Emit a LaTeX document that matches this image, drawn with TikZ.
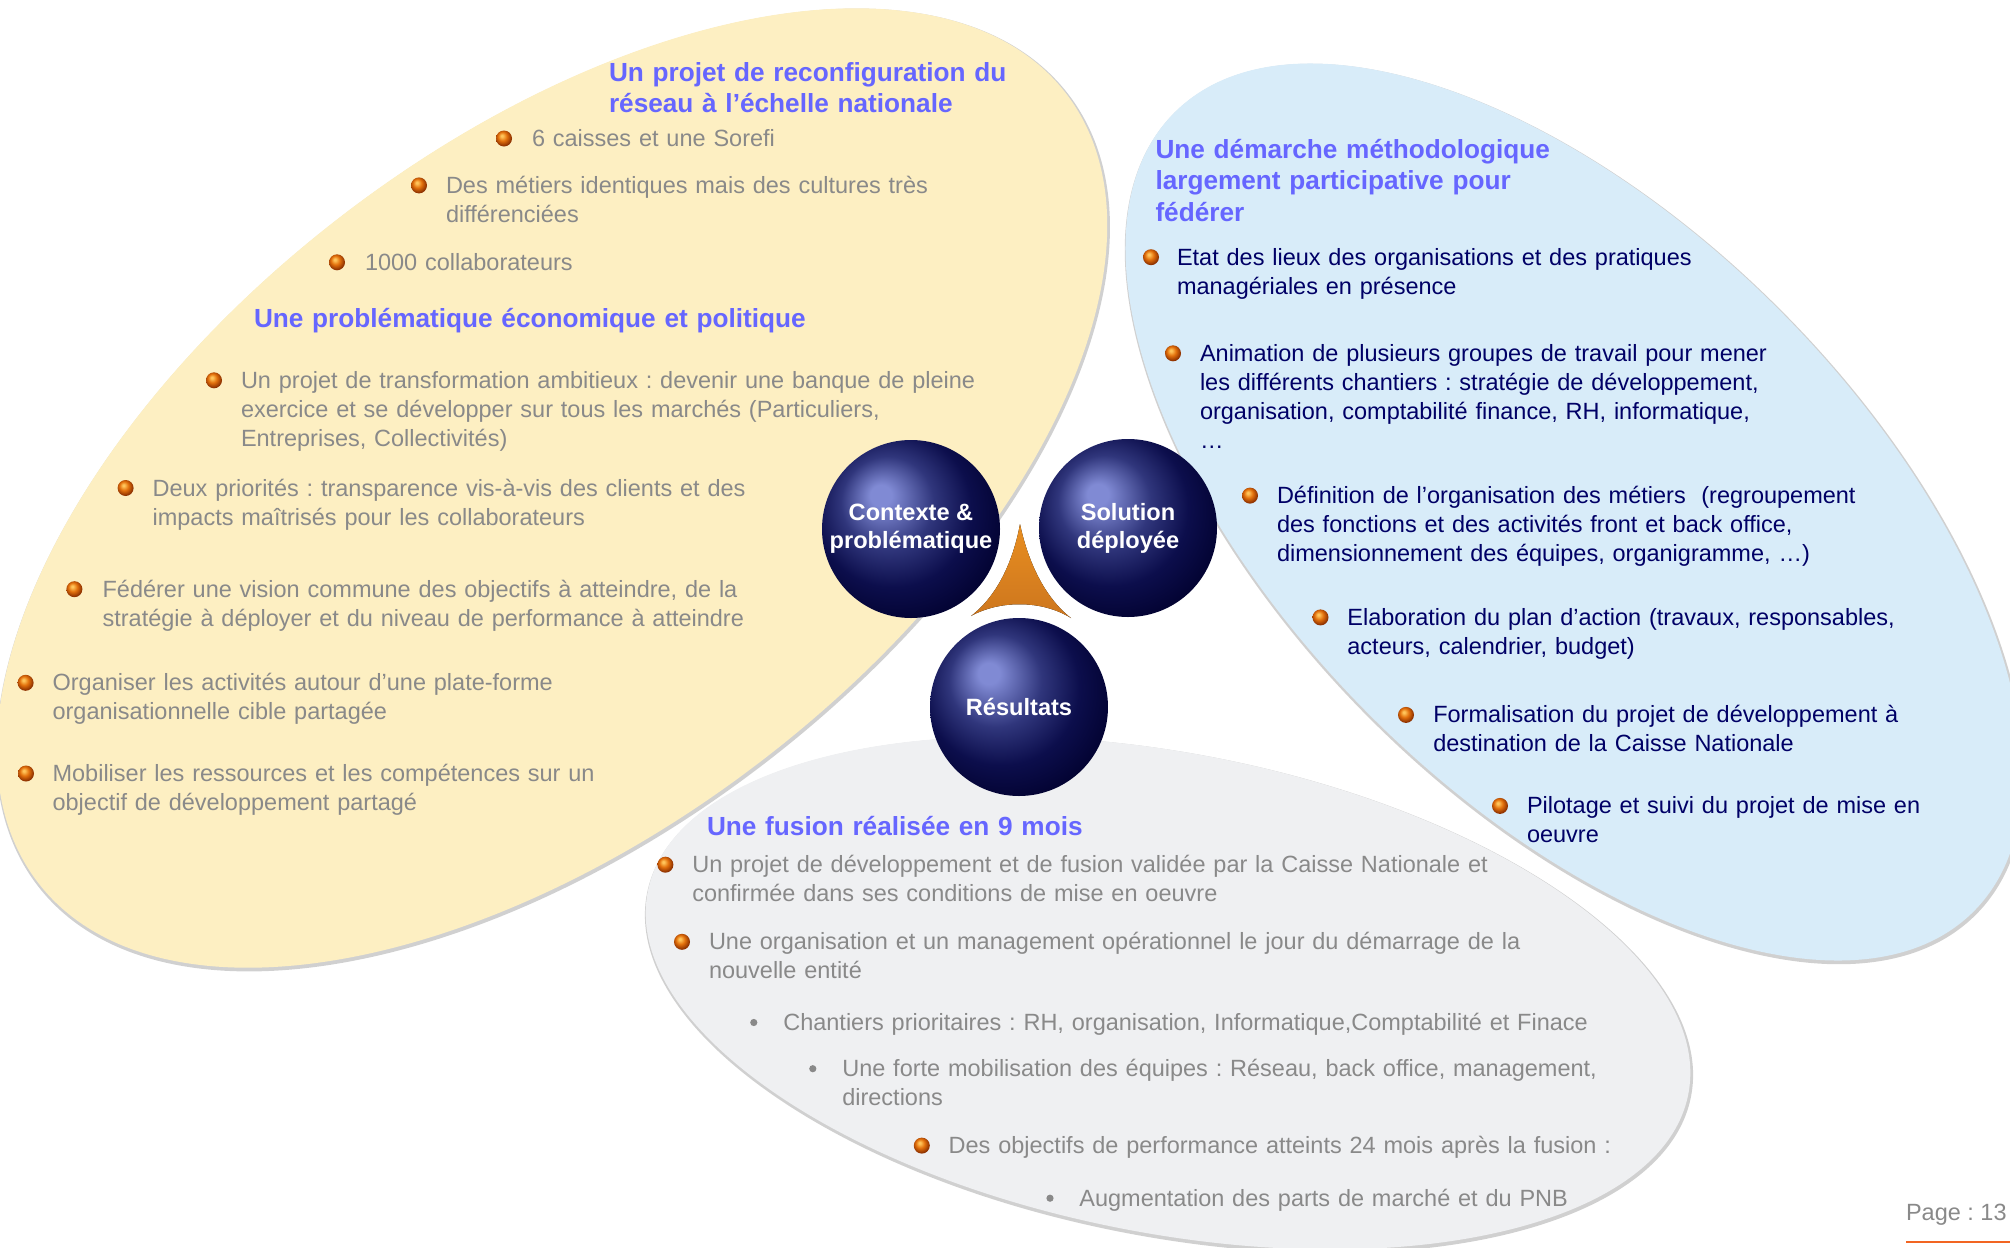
\documentclass[tikz,border=0pt]{standalone}
\usepackage{fontspec}
\setmainfont{Liberation Sans}
\usetikzlibrary{shadings}
\frenchspacing

\definecolor{ylwfill}{RGB}{253,239,194}
\definecolor{bluefill}{RGB}{216,236,249}
\definecolor{grayfill}{RGB}{239,240,242}
\definecolor{rimgray}{RGB}{170,170,170}
\definecolor{headblue}{RGB}{102,102,255}
\definecolor{txtgray}{RGB}{137,137,137}
\definecolor{txtnavy}{RGB}{0,0,102}
\definecolor{beadhl}{RGB}{255,196,90}
\definecolor{beadbody}{RGB}{226,112,12}
\definecolor{beaddark}{RGB}{140,48,0}
\definecolor{orbhl}{RGB}{128,138,212}
\definecolor{orbmid}{RGB}{48,54,124}
\definecolor{orbdeep}{RGB}{12,14,76}
\definecolor{orbedge}{RGB}{2,2,48}
\definecolor{orgtop}{RGB}{232,142,32}
\definecolor{orgmid}{RGB}{172,92,18}
\definecolor{orgbot}{RGB}{205,118,30}
\definecolor{pageorange}{RGB}{242,101,34}

% dark blue glossy sphere, highlight towards the upper left
\pgfdeclareradialshading{orb}{\pgfqpoint{-9bp}{10bp}}{%
  color(0bp)=(orbhl); color(3bp)=(orbhl); color(13bp)=(orbmid);
  color(22bp)=(orbdeep); color(31bp)=(orbedge); color(50bp)=(orbedge)}
% small orange bead used as a bullet
\pgfdeclareradialshading{bead}{\pgfqpoint{-7bp}{9bp}}{%
  color(0bp)=(beadhl); color(3bp)=(beadhl); color(14bp)=(beadbody);
  color(27bp)=(beaddark); color(50bp)=(beaddark)}

% tilted elliptic panel with a thin soft rim: centre x, centre y, angle, radii, fill
\newcommand{\drawpanel}[6]{%
  \begin{scope}[shift={(#1+1,#2+2)}, rotate=#3]
    \fill[rimgray, opacity=.55] (0,0) ellipse [x radius=#4+0.9pt, y radius=#5+0.9pt];
  \end{scope}
  \begin{scope}[shift={(#1,#2)}, rotate=#3]
    \fill[#6] (0,0) ellipse [x radius=#4, y radius=#5];
  \end{scope}}

\begin{document}
\begin{tikzpicture}[x=0.5pt, y=-0.5pt,
  every node/.style={inner sep=0pt, outer sep=0pt},
  body/.style={anchor=base west, align=left, text width=560pt,
    font=\fontsize{11.75}{14.5}\selectfont},
  graytxt/.style={body, text=txtgray},
  navytxt/.style={body, text=txtnavy},
  head/.style={anchor=base west, align=left, text width=420pt, text=headblue,
    font=\fontsize{13.1}{15.7}\bfseries\selectfont},
  orbbullet/.style={circle, minimum size=8pt, shading=bead},
  dotbullet/.style={circle, minimum size=3.6pt, fill=txtgray},
  orb/.style={circle, minimum size=89pt, shading=orb, text=white, align=center,
    font=\fontsize{11.8}{14}\bfseries\selectfont},
]
\useasboundingbox (0,0) rectangle (2010,1248);
\clip (0,0) rectangle (2010,1248);

% three background panels
\drawpanel{552}{488}{37.5}{324pt}{172pt}{ylwfill}
\drawpanel{1574}{512}{-45}{282.5pt}{144pt}{bluefill}
\drawpanel{1168}{993}{-11}{265pt}{120pt}{grayfill}

% orange three-pointed piece between the spheres
\coordinate (tipA) at (1020,524);
\coordinate (tipL) at (971,616);
\coordinate (tipR) at (1071,618);
\fill[top color=orgtop, middle color=orgmid, bottom color=orgbot]
  (tipA) .. controls (1013,562) and (997,596) .. (tipL)
         .. controls (1000,600) and (1042,600) .. (tipR)
         .. controls (1045,598) and (1028,562) .. (tipA) -- cycle;

% spheres
\node[orb] (ctx) at (911,529) {Contexte \&\\problématique};
\node[orb] (sol) at (1128,528) {Solution\\déployée};
\node[orb] (res) at (1019,707) {Résultats};

% context panel
\node[head] (yh1) at (609,81.5) {Un projet de reconfiguration du\\réseau à l’échelle nationale};
\node[orbbullet] (yb1) at (504,138.5) {};
\node[graytxt] (yt1) at (532,146.5) {6 caisses et une Sorefi};
\node[orbbullet] (yb2) at (419,185.4) {};
\node[graytxt] (yt2) at (446,193.4) {Des métiers identiques mais des cultures très\\différenciées};
\node[orbbullet] (yb3) at (337,262.3) {};
\node[graytxt] (yt3) at (365,270.3) {1000 collaborateurs};
\node[head] (yh2) at (254,327) {Une problématique économique et politique};
\node[orbbullet] (yb4) at (214,380.3) {};
\node[graytxt] (yt4) at (241,388.3) {Un projet de transformation ambitieux : devenir une banque de pleine\\exercice et se développer sur tous les marchés (Particuliers,\\Entreprises, Collectivités)};
\node[orbbullet] (yb5) at (125.6,488) {};
\node[graytxt] (yt5) at (152.6,496) {Deux priorités : transparence vis-à-vis des clients et des\\impacts maîtrisés pour les collaborateurs};
\node[orbbullet] (yb6) at (74.4,589.2) {};
\node[graytxt] (yt6) at (102.6,597.2) {Fédérer une vision commune des objectifs à atteindre, de la\\stratégie à déployer et du niveau de performance à atteindre};
\node[orbbullet] (yb7) at (25.6,682.8) {};
\node[graytxt] (yt7) at (52.6,690.8) {Organiser les activités autour d’une plate-forme\\organisationnelle cible partagée};
\node[orbbullet] (yb8) at (26,773.5) {};
\node[graytxt] (yt8) at (52.6,781.5) {Mobiliser les ressources et les compétences sur un\\objectif de développement partagé};

% solution panel
\node[head] (bh) at (1155.5,158.3) {Une démarche méthodologique\\largement participative pour\\fédérer};
\node[orbbullet] (bb1) at (1151,257.2) {};
\node[navytxt] (bt1) at (1177,265.2) {Etat des lieux des organisations et des pratiques\\managériales en présence};
\node[orbbullet] (bb2) at (1173,353.3) {};
\node[navytxt] (bt2) at (1200,361.3) {Animation de plusieurs groupes de travail pour mener\\les différents chantiers : stratégie de développement,\\organisation, comptabilité finance, RH, informatique,\\…};
\node[orbbullet] (bb3) at (1250,495.6) {};
\node[navytxt] (bt3) at (1277,503.6) {Définition de l’organisation des métiers \ (regroupement\\des fonctions et des activités front et back office,\\dimensionnement des équipes, organigramme, …)};
\node[orbbullet] (bb4) at (1320.5,617.4) {};
\node[navytxt] (bt4) at (1347.4,625.4) {Elaboration du plan d’action (travaux, responsables,\\acteurs, calendrier, budget)};
\node[orbbullet] (bb5) at (1406,714.9) {};
\node[navytxt] (bt5) at (1433.3,722.9) {Formalisation du projet de développement à\\destination de la Caisse Nationale};
\node[orbbullet] (bb6) at (1500,805.9) {};
\node[navytxt] (bt6) at (1527,813.9) {Pilotage et suivi du projet de mise en\\oeuvre};

% results panel
\node[head] (gh) at (707,835) {Une fusion réalisée en 9 mois};
\node[orbbullet] (gb1) at (665.4,864.7) {};
\node[graytxt] (gt1) at (692.3,872.7) {Un projet de développement et de fusion validée par la Caisse Nationale et\\confirmée dans ses conditions de mise en oeuvre};
\node[orbbullet] (gb2) at (682,941.8) {};
\node[graytxt] (gt2) at (709,949.8) {Une organisation et un management opérationnel le jour du démarrage de la\\nouvelle entité};
\node[dotbullet] (gd1) at (753.8,1022.5) {};
\node[graytxt] (gs1) at (783.3,1030.5) {Chantiers prioritaires : RH, organisation, Informatique,Comptabilité et Finace};
\node[dotbullet] (gd2) at (812.8,1068.7) {};
\node[graytxt] (gs2) at (842.3,1076.7) {Une forte mobilisation des équipes : Réseau, back office, management,\\directions};
\node[orbbullet] (gb3) at (921.8,1145.6) {};
\node[graytxt] (gt3) at (948.7,1153.6) {Des objectifs de performance atteints 24 mois après la fusion :};
\node[dotbullet] (gd3) at (1050,1198.2) {};
\node[graytxt] (gs3) at (1079.4,1206.2) {Augmentation des parts de marché et du PNB};

% page number with its underline
\node[anchor=base west, text=txtgray, font=\fontsize{11.75}{14}\selectfont] (pg) at (1906,1220) {Page : 13};
\coordinate (ulA) at (1906,1242);
\coordinate (ulB) at (2012,1242);
\draw[pageorange, line width=1.3pt] (ulA) -- (ulB);
\end{tikzpicture}
\end{document}
